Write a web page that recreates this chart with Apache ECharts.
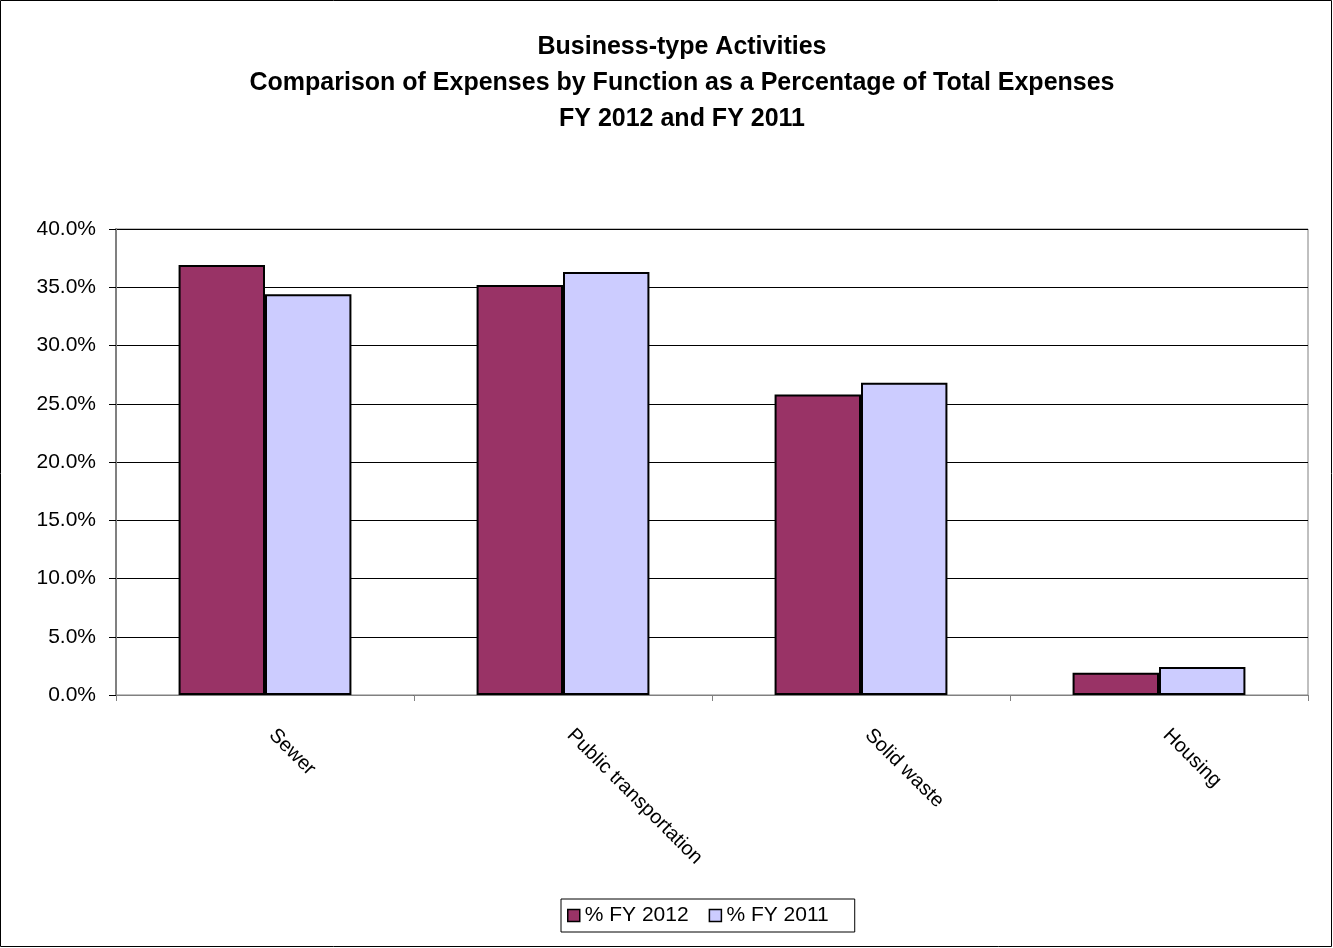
<!DOCTYPE html>
<html>
<head>
<meta charset="utf-8">
<script src="https://cdn.jsdelivr.net/npm/echarts@6/dist/echarts.min.js"></script>
<style>
  html, body { margin: 0; padding: 0; background: #fff; }
  #chart { width: 1333px; height: 948px; }
</style>
</head>
<body>
<div id="chart"></div>
<script>
// values
const categories = ["Sewer", "Public transportation", "Solid waste", "Housing"]
const fy2012 = [36.9, 35.2, 25.8, 1.9]
const fy2011 = [34.4, 36.3, 26.8, 2.4]
const seriesNames = ["% FY 2012", "% FY 2011"]
const titleLines = [
  "Business-type Activities",
  "Comparison of Expenses by Function as a Percentage of Total Expenses",
  "FY 2012 and FY 2011"
]

const font = "'Liberation Sans', Arial, sans-serif"

const chart = echarts.init(document.getElementById("chart"))

chart.setOption({
  animation: false,
  textStyle: { fontFamily: font },
  title: {
    text: titleLines.join("\n"),
    left: 677,
    textAlign: "center",
    top: 24,
    textStyle: { fontSize: 25, fontWeight: "bold", lineHeight: 36, color: "#000", fontFamily: font }
  },
  graphic: [{
    type: "rect",
    shape: { x: 0.5, y: 0.5, width: 1331, height: 946 },
    style: { fill: "none", stroke: "#000", lineWidth: 1 },
    silent: true
  }],
  grid: {
    left: 116, right: 25, top: 229, bottom: 253,
    show: true, borderColor: "#808080", borderWidth: 1, backgroundColor: "transparent"
  },
  legend: {
    left: 561, top: 899,
    padding: [6, 26, 6, 6],
    itemGap: 20,
    itemWidth: 12, itemHeight: 12,
    icon: "rect",
    borderColor: "#000", borderWidth: 1,
    itemStyle: { borderColor: "#000", borderWidth: 1.5 },
    textStyle: { fontSize: 21, color: "#000" },
    data: seriesNames
  },
  xAxis: {
    type: "category",
    data: categories,
    axisLine: { lineStyle: { color: "#808080", width: 1 } },
    axisTick: { show: true, length: 6, lineStyle: { color: "#808080" } },
    axisLabel: { rotate: -45, fontSize: 20, color: "#000", margin: 30, interval: 0, padding: [0, 0, 0, 10] }
  },
  yAxis: {
    type: "value",
    min: 0, max: 40, interval: 5,
    axisLine: { show: true, lineStyle: { color: "#808080", width: 2 } },
    axisTick: { show: true, length: 7, lineStyle: { color: "#000" } },
    axisLabel: { fontSize: 21, color: "#000", margin: 20, formatter: v => v.toFixed(1) + "%" },
    splitLine: { show: true, lineStyle: { color: "#000", width: 1 } }
  },
  series: [
    {
      name: seriesNames[0], type: "bar", data: fy2012,
      barGap: "0%", barCategoryGap: "42%",
      itemStyle: { color: "#993366", borderColor: "#000", borderWidth: 2 }
    },
    {
      name: seriesNames[1], type: "bar", data: fy2011,
      itemStyle: { color: "#ccccff", borderColor: "#000", borderWidth: 2 }
    }
  ]
})
</script>
</body>
</html>
